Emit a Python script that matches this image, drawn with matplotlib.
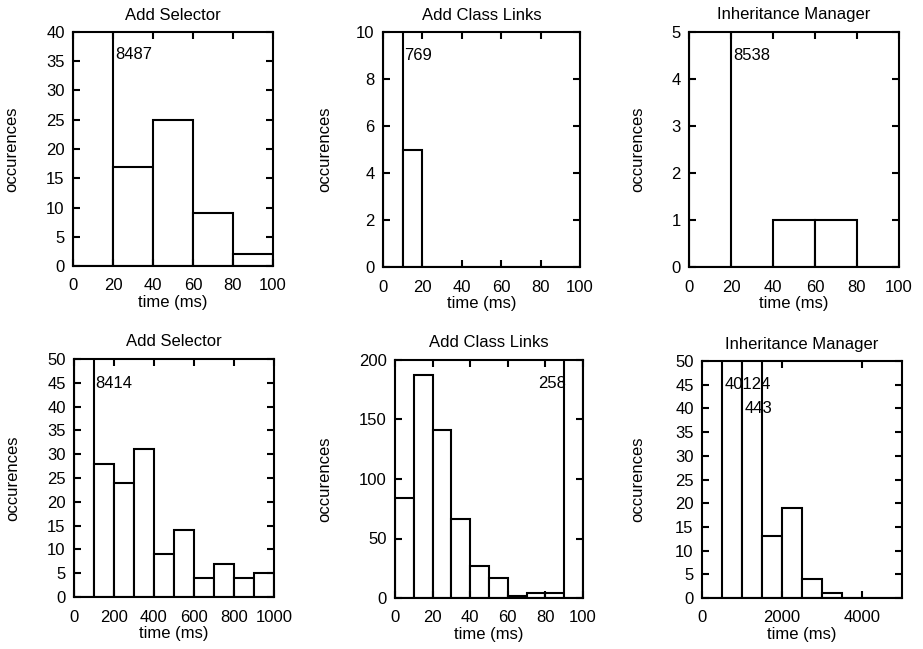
import matplotlib
matplotlib.use("Agg")
import matplotlib.pyplot as plt
import numpy as np

plt.rcParams['font.family'] = ['Liberation Sans', 'DejaVu Sans']

W, H = 923, 649

# ---- data ----
titles = ["Add Selector", "Add Class Links", "Inheritance Manager",
          "Add Selector", "Add Class Links", "Inheritance Manager"]

edges1 = [0, 20, 40, 60, 80]
counts1 = [8487, 17, 25, 9, 2]
edges2 = [0, 10, 20, 30, 40, 50, 60, 70, 80, 90]
counts2 = [769, 5, 0, 0, 0, 0, 0, 0, 0, 0]
edges3 = [0, 20, 40, 60, 80]
counts3 = [8538, 0, 1, 1, 0]
edges4 = [0, 100, 200, 300, 400, 500, 600, 700, 800, 900]
counts4 = [8414, 28, 24, 31, 9, 14, 4, 7, 4, 5]
edges5 = [0, 10, 20, 30, 40, 50, 60, 70, 80, 90]
counts5 = [84, 187, 141, 66, 27, 17, 2, 4, 4, 258]
edges6 = [0, 500, 1000, 1500, 2000, 2500, 3000, 3500, 4000, 4500]
counts6 = [0, 40124, 443, 13, 19, 4, 1, 0, 0, 0]

widths = [20, 10, 20, 100, 10, 500]
xlims = [(0, 100), (0, 100), (0, 100), (0, 1000), (0, 100), (0, 5000)]
ylims = [(0, 40), (0, 10), (0, 5), (0, 50), (0, 200), (0, 50)]
xticks = [[0, 20, 40, 60, 80, 100]] * 3 + [[0, 200, 400, 600, 800, 1000],
                                           [0, 20, 40, 60, 80, 100],
                                           [0, 2000, 4000]]
yticks = [list(range(0, 41, 5)), list(range(0, 11, 2)), list(range(0, 6)),
          list(range(0, 51, 5)), list(range(0, 201, 50)), list(range(0, 51, 5))]

# overflow labels: (text, x, y, ha)
labels = [
    [("8487", 21, 36.1, 'left')],
    [("769", 10.8, 9.0, 'left')],
    [("8538", 21, 4.5, 'left')],
    [("8414", 108, 44.9, 'left')],
    [("258", 90.8, 180.5, 'right')],
    [("40124", 560, 45.0, 'left'), ("443", 1060, 40.0, 'left')],
]

edges_all = [edges1, edges2, edges3, edges4, edges5, edges6]
counts_all = [counts1, counts2, counts3, counts4, counts5, counts6]

# pixel rects: left, right, top, bottom
rects = [(73, 273, 32, 266), (383, 580, 32, 267), (689, 899, 32, 267),
         (74, 274, 359, 597), (395, 583, 360, 598), (702, 902, 361, 598)]
ylabel_x = [12, 325, 638, 13, 325, 638]

fig = plt.figure(figsize=(W / 100, H / 100), dpi=100)
fs = 12
lw = 1.5

for i in range(6):
    l, r, t, b = rects[i]
    ax = fig.add_axes([l / W, (H - b) / H, (r - l) / W, (b - t) / H])
    ax.bar(edges_all[i], counts_all[i], width=widths[i], align='edge',
           facecolor='white', edgecolor='black', linewidth=lw)
    ax.set_xlim(*xlims[i])
    ax.set_ylim(*ylims[i])
    ax.set_xticks(xticks[i])
    ax.set_yticks(yticks[i])
    ax.tick_params(direction='in', top=True, right=True, length=5, width=lw,
                   labelsize=fs)
    ax.tick_params(axis='x', pad=9)
    ax.tick_params(axis='y', pad=6)
    for s in ax.spines.values():
        s.set_linewidth(lw)
    ax.set_title(titles[i], fontsize=fs, pad=9)
    ax.set_xlabel("time (ms)", fontsize=fs, labelpad=1)
    ax.set_ylabel("occurences", fontsize=fs)
    ax.yaxis.set_label_coords((ylabel_x[i] - l) / (r - l), 0.5)
    ax.yaxis.label.set_va('center')
    for (txt, x, y, ha) in labels[i]:
        ax.text(x, y, txt, fontsize=fs, ha=ha, va='center')

fig.savefig("out.png", dpi=100)
